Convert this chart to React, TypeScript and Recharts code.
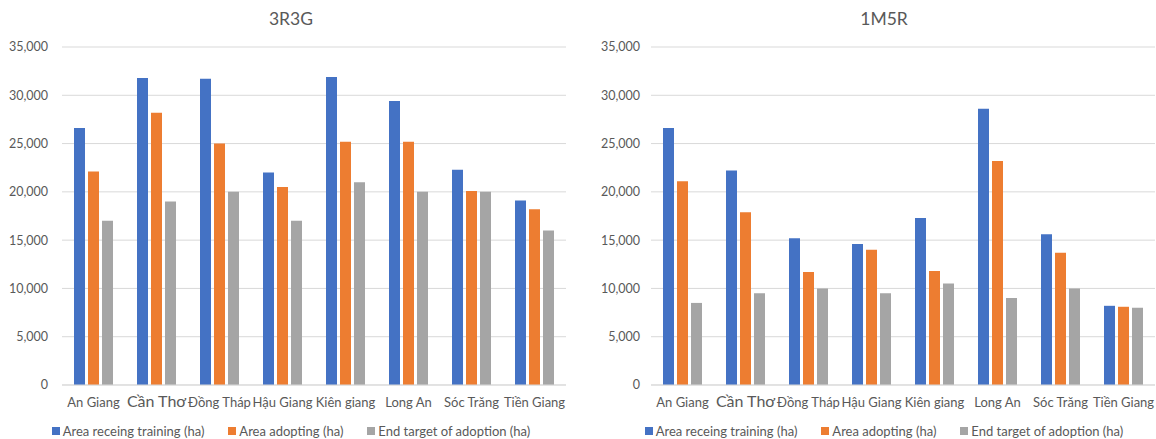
import React from 'react';
import { BarChart, Bar, XAxis, YAxis, CartesianGrid } from 'recharts';

const provinces = ['An Giang', 'Cần Thơ', 'Đồng Tháp', 'Hậu Giang', 'Kiên giang', 'Long An', 'Sóc Trăng', 'Tiền Giang'];
const yTicks = [0, 5000, 10000, 15000, 20000, 25000, 30000, 35000];

// 3R3G (ha)
const trained3R3G = [26600, 31800, 31700, 22000, 31900, 29400, 22300, 19100];
const adopting3R3G = [22100, 28200, 25000, 20500, 25200, 25200, 20100, 18200];
const target3R3G = [17000, 19000, 20000, 17000, 21000, 20000, 20000, 16000];

// 1M5R (ha)
const trained1M5R = [26600, 22200, 15200, 14600, 17300, 28600, 15600, 8200];
const adopting1M5R = [21100, 17900, 11700, 14000, 11800, 23200, 13700, 8100];
const target1M5R = [8500, 9500, 10000, 9500, 10500, 9000, 10000, 8000];

const seriesNames = ['Area receing training (ha)', 'Area adopting (ha)', 'End target of adoption (ha)'];
const seriesColors = ['#4472C4', '#ED7D31', '#A5A5A5'];
const seriesKeys = ['trained', 'adopting', 'target'];

const FONT = 'Lato, "Open Sans", sans-serif';
const TEXT = '#595959';

const buildRows = (a: number[], b: number[], c: number[]) =>
  provinces.map((p, i) => ({ province: p, trained: a[i], adopting: b[i], target: c[i] }));

const ProvinceTick = ({ x, y, payload }: any) => {
  const big = payload.value === 'Cần Thơ';
  return (
    <text x={x} y={y + 22} textAnchor="middle" fill={TEXT} fontSize={big ? 16 : 13} fontFamily={FONT}>
      {payload.value}
    </text>
  );
};

const fmt = (v: number) => v.toLocaleString('en-US');

interface PanelProps {
  title: string;
  rows: any[];
  left: number;
  axisWidth: number;
  tickGap: number;
  marginRight: number;
  center: number;
}

const Panel = ({ title, rows, left, axisWidth, tickGap, marginRight, center }: PanelProps) => (
  <div style={{ position: 'absolute', left, top: 0, width: 578, height: 439 }}>
    <div
      style={{
        position: 'absolute', left: center - 100, top: 8, width: 200, textAlign: 'center',
        fontFamily: FONT, fontSize: 17.5, color: TEXT,
      }}
    >
      {title}
    </div>
    <BarChart
      width={578}
      height={439}
      data={rows}
      margin={{ top: 47, right: marginRight, left: 0, bottom: 24 }}
      barSize={11}
      barGap={3}
    >
      <CartesianGrid vertical={false} stroke="#d9d9d9" />
      <XAxis
        dataKey="province"
        height={30}
        tickLine={false}
        tickSize={0}
        tickMargin={0}
        axisLine={{ stroke: '#d9d9d9' }}
        tick={<ProvinceTick />}
        interval={0}
      />
      <YAxis
        width={axisWidth}
        domain={[0, 35000]}
        ticks={yTicks}
        tickFormatter={fmt}
        axisLine={false}
        tickLine={false}
        tickSize={0}
        tickMargin={tickGap}
        tick={{ fill: TEXT, fontSize: 12.5, fontFamily: FONT }}
      />
      {seriesKeys.map((k, i) => (
        <Bar key={k} dataKey={k} name={seriesNames[i]} fill={seriesColors[i]} isAnimationActive={false} />
      ))}
    </BarChart>
    <div
      style={{
        position: 'absolute', left: center - 289, top: 423, width: 578,
        display: 'flex', justifyContent: 'center', gap: 24,
        fontFamily: FONT, fontSize: 13, color: TEXT, whiteSpace: 'nowrap',
      }}
    >
      {seriesNames.map((n, i) => (
        <div key={n} style={{ display: 'flex', alignItems: 'center' }}>
          <span style={{ display: 'inline-block', width: 8, height: 8, background: seriesColors[i], marginRight: 3 }} />
          {n}
        </div>
      ))}
    </div>
  </div>
);

export default function App() {
  return (
    <div style={{ position: 'absolute', left: 0, top: 0, width: 1156, height: 439, background: '#fff', overflow: 'hidden' }}>
      <Panel
        title="3R3G"
        rows={buildRows(trained3R3G, adopting3R3G, target3R3G)}
        left={0}
        axisWidth={62}
        tickGap={14}
        marginRight={12}
        center={291}
      />
      <Panel
        title="1M5R"
        rows={buildRows(trained1M5R, adopting1M5R, target1M5R)}
        left={578}
        axisWidth={73}
        tickGap={11}
        marginRight={1}
        center={306}
      />
    </div>
  );
}
